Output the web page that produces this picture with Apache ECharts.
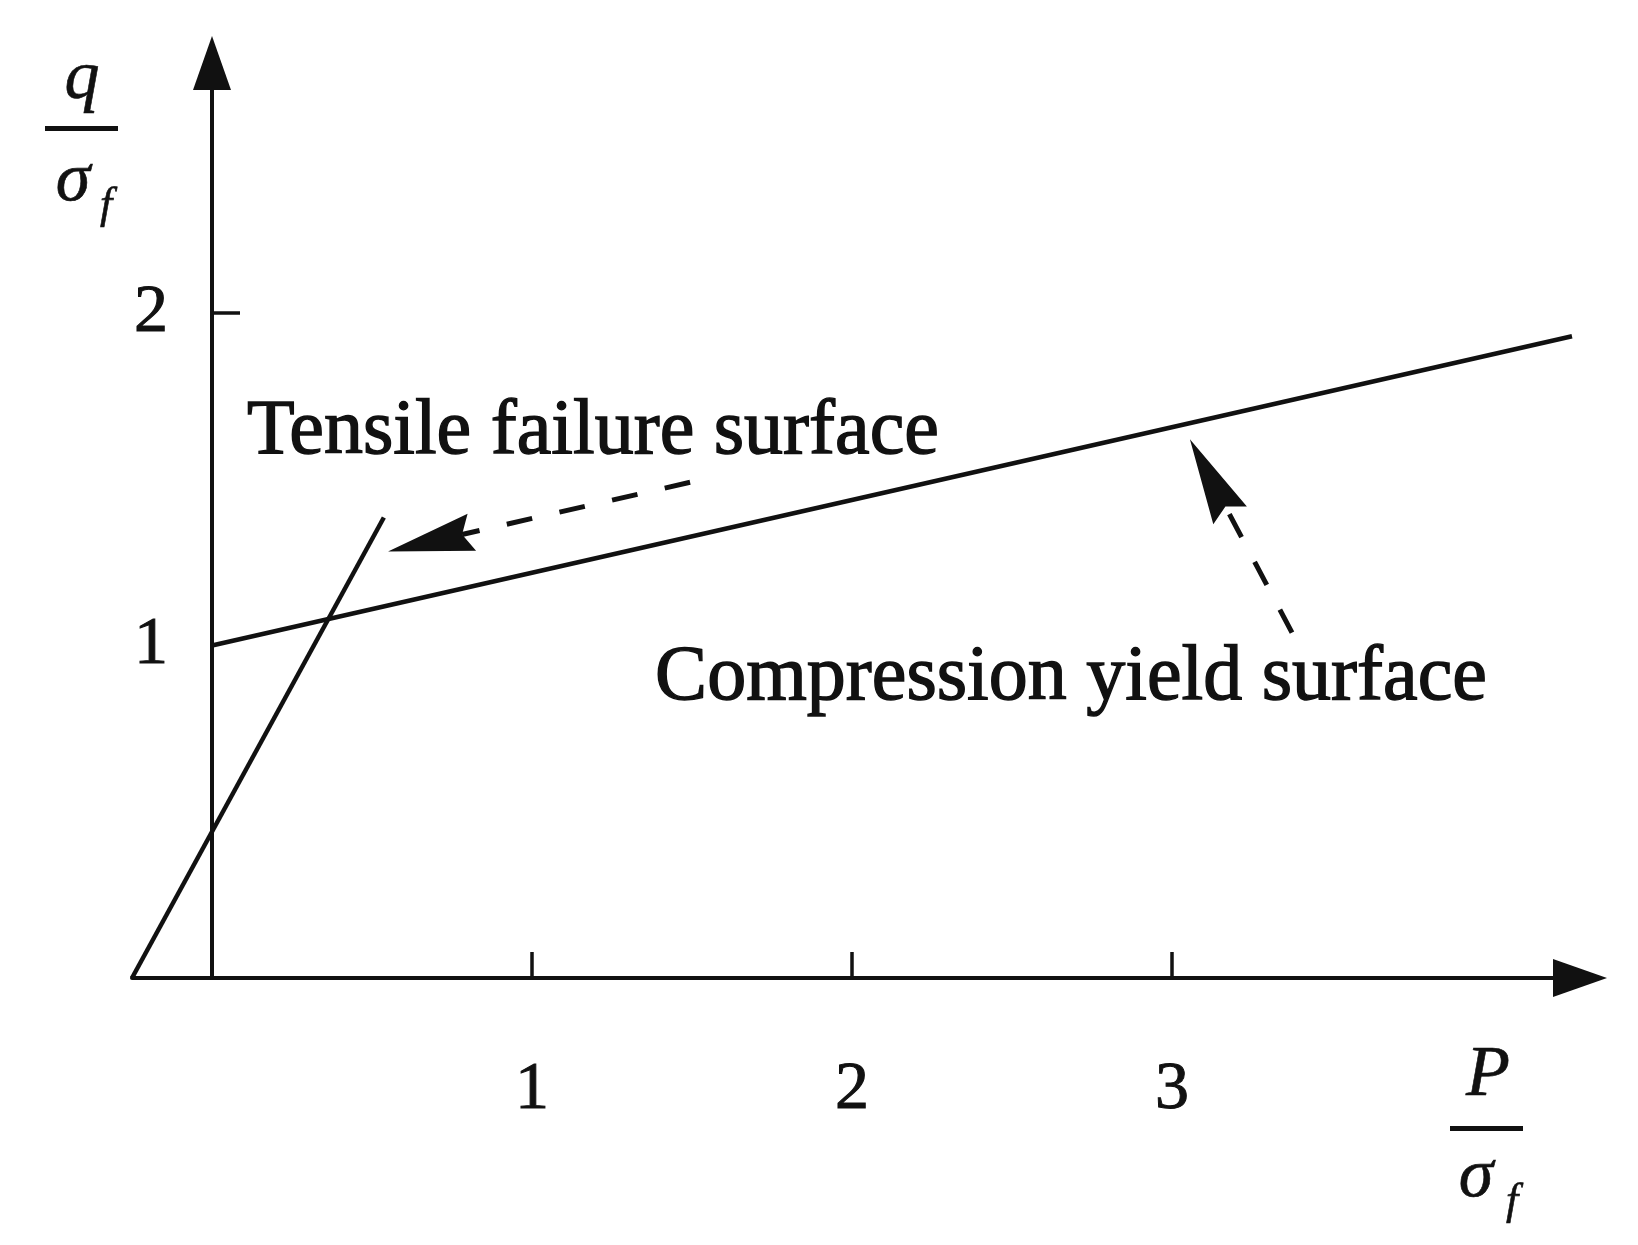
<!DOCTYPE html>
<html>
<head>
<meta charset="utf-8">
<script src="https://cdn.jsdelivr.net/npm/echarts@6/dist/echarts.min.js"></script>
<style>
html,body{margin:0;padding:0;background:#fff;}
#chart{width:1638px;height:1245px;}
</style>
</head>
<body>
<div id="chart"></div>
<script>
// ---- data ----
const xTickValues = [1, 2, 3];
const yTickValues = [1, 2];
const yTickMarks = [2];
const compressionYield = [[0, 1], [4.25, 1.93]];
const tensileFailure = [[-0.25, 0], [0.537, 1.385]];
// pointer arrows: [fromX, fromY, toX, toY]
const pointerArrows = [
  [1.494, 1.491, 0.55, 1.283],
  [3.375, 1.039, 3.056, 1.62]
];
const tensileLabel = 'Tensile failure surface';
const compressionLabel = 'Compression yield surface';

const serif = '"Liberation Serif", "Times New Roman", serif';
const ink = '#111';

const chart = echarts.init(document.getElementById('chart'));

function mathText(x, y, text, size, italic) {
  return {
    type: 'text', x: x, y: y, silent: true,
    style: {
      text: text, fill: ink,
      font: (italic ? 'italic ' : '') + size + 'px ' + serif,
      textAlign: 'center', textVerticalAlign: 'middle',
      align: 'center', verticalAlign: 'middle',
      stroke: ink, lineWidth: 0.6
    }
  };
}
function noteText(x, y, text) {
  return {
    type: 'text', x: x, y: y, silent: true,
    style: {
      text: text, fill: ink, font: '78px ' + serif,
      textAlign: 'center', textVerticalAlign: 'middle',
      align: 'center', verticalAlign: 'middle',
      stroke: ink, lineWidth: 1.4
    }
  };
}

const option = {
  backgroundColor: '#fff',
  animation: false,
  grid: { left: 132, right: 58, top: 63, bottom: 267, containLabel: false },
  xAxis: {
    type: 'value', min: -0.25, max: 4.275,
    splitLine: { show: false },
    axisLine: {
      onZero: true,
      symbol: ['none', 'triangle'], symbolSize: [38, 54],
      lineStyle: { color: ink, width: 4 }
    },
    axisTick: { show: true, inside: true, length: 26, customValues: xTickValues,
      lineStyle: { color: ink, width: 3.5 } },
    axisLabel: { customValues: xTickValues, margin: 78, color: ink,
      fontFamily: serif, fontSize: 68, textBorderColor: ink, textBorderWidth: 1 }
  },
  yAxis: {
    type: 'value', min: 0, max: 2.752,
    splitLine: { show: false },
    axisLine: {
      onZero: true,
      symbol: ['none', 'triangle'], symbolSize: [38, 54],
      lineStyle: { color: ink, width: 4 }
    },
    axisTick: { show: true, inside: true, length: 28, customValues: yTickMarks,
      lineStyle: { color: ink, width: 3.5 } },
    axisLabel: { customValues: yTickValues, margin: -36, color: ink,
      fontFamily: serif, fontSize: 68, textBorderColor: ink, textBorderWidth: 1 }
  },
  series: [
    {
      name: 'Compression yield surface', type: 'line', data: compressionYield,
      showSymbol: false, silent: true,
      lineStyle: { color: ink, width: 4.5 }
    },
    {
      name: 'Tensile failure surface', type: 'line', data: tensileFailure,
      showSymbol: false, silent: true,
      lineStyle: { color: ink, width: 4.5 }
    },
    {
      type: 'custom', data: pointerArrows, silent: true, clip: false,
      encode: { x: [0, 2], y: [1, 3] },
      renderItem: function (params, api) {
        const p0 = api.coord([api.value(0), api.value(1)]);
        const p1 = api.coord([api.value(2), api.value(3)]);
        const dx = p1[0] - p0[0], dy = p1[1] - p0[1];
        const len = Math.hypot(dx, dy);
        const ux = dx / len, uy = dy / len, nx = -uy, ny = ux;
        const L = 86, W = 38, notch = 10;
        const bx = p1[0] - ux * L, by = p1[1] - uy * L;
        const inner = [bx + ux * notch, by + uy * notch];
        return {
          type: 'group',
          children: [
            { type: 'line',
              shape: { x1: p0[0], y1: p0[1], x2: inner[0], y2: inner[1] },
              style: { stroke: ink, lineWidth: 5, lineDash: [26, 28], fill: null } },
            { type: 'polygon',
              shape: { points: [p1, [bx + nx * W / 2, by + ny * W / 2], inner, [bx - nx * W / 2, by - ny * W / 2]] },
              style: { fill: ink } }
          ]
        };
      }
    }
  ],
  graphic: [
    // axis titles
    mathText(82, 80, 'q', 70, true),
    { type: 'rect', silent: true, shape: { x: 45, y: 126, width: 73, height: 5 }, style: { fill: ink } },
    mathText(73, 182, 'σ', 70, true),
    mathText(106, 206, 'f', 44, true),
    mathText(1488, 1076, 'P', 72, true),
    { type: 'rect', silent: true, shape: { x: 1450, y: 1126, width: 73, height: 5 }, style: { fill: ink } },
    mathText(1476, 1178, 'σ', 70, true),
    mathText(1512, 1202, 'f', 44, true),
    // annotations
    noteText(593, 433, tensileLabel),
    noteText(1071, 679, compressionLabel)
  ]
};
chart.setOption(option);
</script>
</body>
</html>
